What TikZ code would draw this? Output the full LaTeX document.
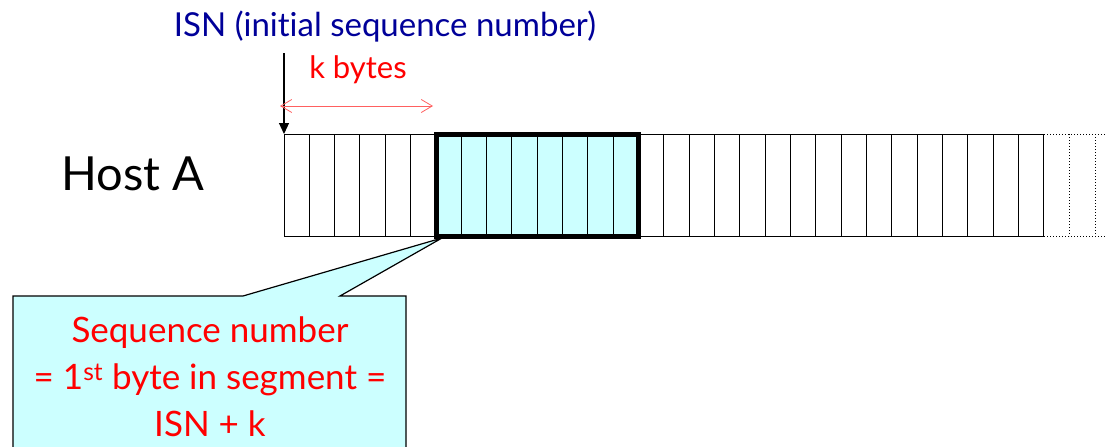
\documentclass[tikz,border=0pt]{standalone}
\usepackage{fontspec}
\setmainfont{Lato}[Ligatures=NoCommon]
\usetikzlibrary{arrows.meta}
\definecolor{isnblue}{HTML}{000099}
\definecolor{segcyan}{HTML}{CCFFFF}
\definecolor{lightred}{HTML}{FF6060}
\begin{document}
\begin{tikzpicture}[x=1pt,y=-1pt,
  cell/.style={draw=black,line width=1pt},
  dotcell/.style={draw=black,line width=1pt,dotted},
  redtext/.style={text=red,font=\fontsize{31}{37}\selectfont},
  bluetext/.style={text=isnblue,font=\fontsize{33}{38}\selectfont}]
\useasboundingbox (0,0) rectangle (1106,447);
% byte stream: 30 solid cells from x=284
\foreach \i in {0,...,29}{
  \draw[cell] ({284+25.33*\i},134) rectangle ({284+25.33*(\i+1)},236);
}
% continuation, dotted
\draw[dotcell] (1044,134) -- (1106,134);
\draw[dotcell] (1044,236) -- (1106,236);
\draw[dotcell] (1069.5,134) -- (1069.5,236);
\draw[dotcell] (1095,134) -- (1095,236);
% the segment
\node[fill=segcyan,minimum width=202.6pt,minimum height=102pt,
  inner sep=0pt,outer sep=0pt,anchor=north west] (seg) at (436,134) {};
\foreach \i in {1,...,7}{
  \draw[cell] ({436+25.33*\i},134) -- ({436+25.33*\i},236);
}
\draw[line width=5pt] (seg.north west) rectangle (seg.south east);
% labels
\node[font=\fontsize{47}{52}\selectfont,anchor=center] (host) at (133,174) {Host A};
\node[bluetext] (isn) at (385,27) {ISN (initial sequence number)};
\node[redtext] (kb) at (358,70) {k bytes};
% ISN pointer
\coordinate (isntop) at (284,53);
\coordinate (first) at (284,134);
\draw[line width=1.2pt,-{Triangle[length=11pt,width=10pt]}] (isntop) -- (first);
% k bytes span
\coordinate (kl) at (280,106);
\coordinate (kr) at (433,106);
\draw[lightred,line width=0.8pt,{Straight Barb[length=11pt,width=13pt]}-{Straight Barb[length=11pt,width=13pt]}] (kl) -- (kr);
% callout
\coordinate (tip) at (442,238);
\draw[fill=segcyan,line width=1.2pt] (13,460) -- (13,296) -- (243,296) -- (tip) -- (340,296) -- (406,296) -- (406,460);
\node[redtext,align=center,font=\fontsize{35}{47}\selectfont] (note) at (210,377)
  {Sequence number\\= 1\textsuperscript{st} byte in segment =\\ISN + k};
\end{tikzpicture}
\end{document}
